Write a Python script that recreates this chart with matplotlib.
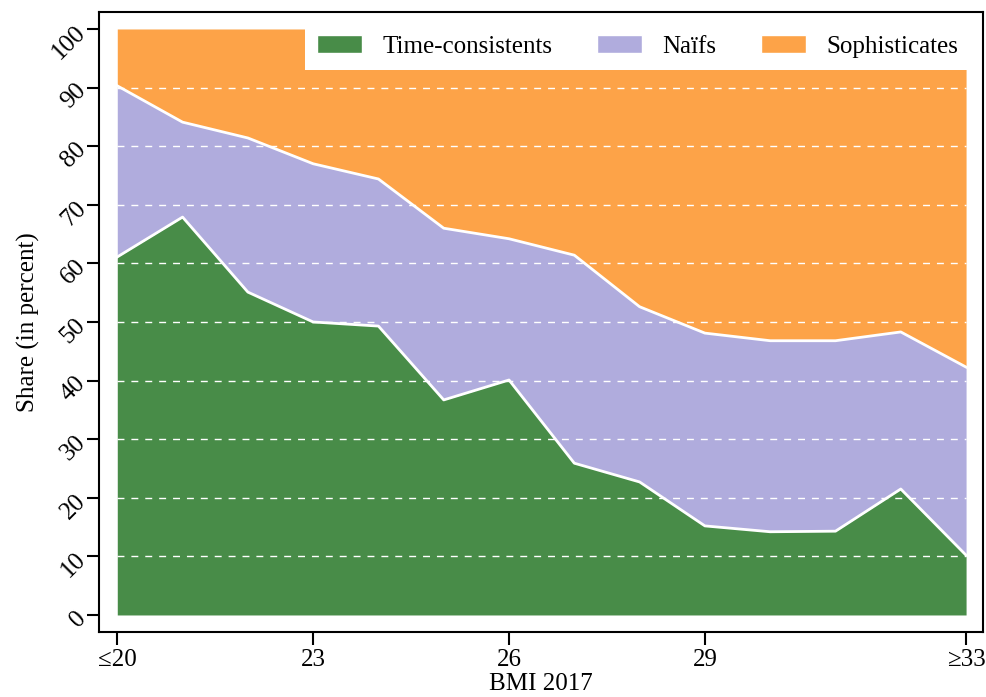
import numpy as np
import matplotlib
matplotlib.use('Agg')
import matplotlib.pyplot as plt
from matplotlib.patches import Patch

plt.rcParams['font.family'] = ['Liberation Serif', 'DejaVu Serif']

# BMI classes (first = <=20, last = >=33)
bmi = np.arange(20, 34)
# shares in percent
time_consistent = [61.1, 67.9, 55.1, 50.0, 49.3, 36.7, 40.1, 25.9, 22.7, 15.2, 14.2, 14.3, 21.5, 10.2]
naifs = [29.2, 16.2, 26.3, 27.0, 25.1, 29.3, 24.1, 35.5, 29.9, 32.9, 32.6, 32.5, 26.8, 32.1]
sophisticates = [9.7, 15.9, 18.6, 23.0, 25.6, 34.0, 35.8, 38.6, 47.4, 51.9, 53.2, 53.2, 51.7, 57.7]

labels = ['Time-consistents', 'Naïfs', 'Sophisticates']
colors = ['#488c48', '#b0acdd', '#fda348']

xtick_vals = [20, 23, 26, 29, 33]
xtick_labels = ['≤20', '23', '26', '29', '≥33']
ytick_vals = np.arange(0, 101, 10)
grid_vals = np.arange(10, 100, 10)

fig = plt.figure(figsize=(9.87, 6.97), dpi=100)
ax = fig.add_axes([0.1003, 0.0933, 0.8957, 0.8895])

series = [time_consistent, naifs, sophisticates]
bottom = np.zeros(len(bmi))
tops = []
for vals, col in zip(series, colors):
    top = bottom + np.array(vals)
    ax.fill_between(bmi, bottom, top, color=col, linewidth=0, zorder=1)
    tops.append(top)
    bottom = top

# dashed white grid over the areas
ax.hlines(grid_vals, bmi[0], bmi[-1], colors='white', linewidth=1,
          linestyles=(0, (5, 5)), zorder=2)

# white borders between the layers
for top in tops[:2]:
    ax.plot(bmi, top, color='white', linewidth=2, zorder=3)

ax.set_xlim(19.72, 33.26)
ax.set_ylim(-2.9, 102.9)
ax.set_xticks(xtick_vals)
ax.set_xticklabels(xtick_labels)
ax.set_yticks(ytick_vals)
ax.tick_params(length=9, width=1.5, labelsize=18, pad=3)
for lbl in ax.get_yticklabels():
    lbl.set_rotation(45)
    lbl.set_ha('right')
    lbl.set_va('center')
    lbl.set_rotation_mode('anchor')
for sp in ax.spines.values():
    sp.set_linewidth(1.5)

ax.set_xlabel('BMI 2017', fontsize=18, labelpad=2)
ax.set_ylabel('Share (in percent)', fontsize=18, labelpad=6)

handles = [Patch(facecolor=c, edgecolor='white') for c in colors]
leg = ax.legend(handles, labels, ncol=3, loc='lower right',
                bbox_to_anchor=(0.986, 0.906), fontsize=18, frameon=True,
                fancybox=False, facecolor='white', edgecolor='none',
                framealpha=1, borderaxespad=0, borderpad=0.5,
                handlelength=1.8, handleheight=0.7, handletextpad=0.8,
                columnspacing=1.8)
leg.set_zorder(5)

fig.savefig('out.png', dpi=100)
